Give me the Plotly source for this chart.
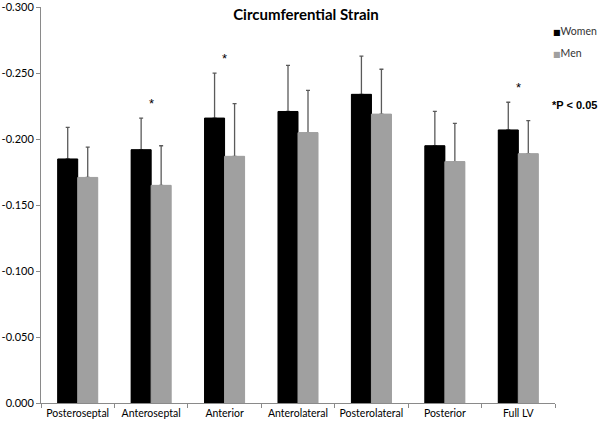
import plotly.graph_objects as go

categories = ["Posteroseptal", "Anteroseptal", "Anterior", "Anterolateral",
              "Posterolateral", "Posterior", "Full LV"]
women = [-0.185, -0.192, -0.216, -0.221, -0.234, -0.195, -0.207]
women_err = [0.024, 0.024, 0.034, 0.035, 0.029, 0.026, 0.021]
men = [-0.171, -0.165, -0.187, -0.205, -0.219, -0.183, -0.189]
men_err = [0.023, 0.030, 0.040, 0.032, 0.034, 0.029, 0.025]
significant = ["Anteroseptal", "Anterior", "Full LV"]
y_tick_vals = [0.0, -0.05, -0.10, -0.15, -0.20, -0.25, -0.30]
y_tick_text = ["0.000", "-0.050", "-0.100", "-0.150", "-0.200", "-0.250", "-0.300"]
series_names = ["Women", "Men"]

BLACK = "#000000"
GRAY = "#a0a0a0"
ERR = "#5a5a5a"
FONT = "Lato"

fig = go.Figure()
# bars carrying the one-sided error bars
for name, vals, errs, col, grp in [(series_names[0], women, women_err, BLACK, "w"),
                                   (series_names[1], men, men_err, GRAY, "m")]:
    fig.add_trace(go.Bar(
        x=categories, y=vals, marker=dict(color=col, line=dict(width=0)),
        offsetgroup=grp, showlegend=False, hoverinfo="skip", name=name,
        error_y=dict(type="data", symmetric=False, array=[0] * len(errs),
                     arrayminus=errs, color=ERR, thickness=1.3, width=2),
    ))
# solid bars on top (hide the zero-length cap at bar top)
for name, vals, col, grp in [(series_names[0], women, BLACK, "w"),
                             (series_names[1], men, GRAY, "m")]:
    fig.add_trace(go.Bar(
        x=categories, y=vals, marker=dict(color=col, line=dict(color=col, width=1)),
        offsetgroup=grp, showlegend=False, name=name,
    ))

annotations = []
for cat in significant:
    i = categories.index(cat)
    tip = max(-women[i] + women_err[i], -men[i] + men_err[i])
    annotations.append(dict(
        x=cat, y=-(tip + 0.004), xref="x", yref="y", text="*", showarrow=False,
        yanchor="bottom", font=dict(family="Liberation Sans", size=13, color="#000"),
    ))
annotations.append(dict(
    x=0.991, y=0.7525, xref="paper", yref="paper", text="<b>*P < 0.05</b>",
    showarrow=False, xanchor="left", yanchor="middle",
    font=dict(family="Liberation Sans", size=11, color="#000"),
))
# legend (key) entries
for name, col, ypos in [(series_names[0], BLACK, 0.939), (series_names[1], GRAY, 0.884)]:
    annotations.append(dict(
        x=0.994, y=ypos, xref="paper", yref="paper", showarrow=False,
        xanchor="left", yanchor="middle", borderpad=0,
        text=f"<span style='color:{col};font-size:8px;font-family:DejaVu Sans'>■</span>{name}",
        font=dict(family=FONT, size=10.5, color="#333"),
    ))

fig.update_layout(
    width=600, height=427,
    margin=dict(l=41, r=45, t=7, b=24),
    paper_bgcolor="white", plot_bgcolor="white",
    barmode="group", bargap=0.455, bargroupgap=0,
    title=dict(text="<b>Circumferential Strain</b>", x=0.51, xref="container",
               xanchor="center", y=0.966, yanchor="middle",
               font=dict(family=FONT, size=15, color="#000")),
    font=dict(family=FONT, size=11, color="#000"),
    showlegend=False,
    annotations=annotations,
    xaxis=dict(type="category", showline=True, linecolor="#8a8a8a", linewidth=1,
               ticks="outside", tickson="boundaries", ticklen=4, tickcolor="#8a8a8a",
               tickangle=0, automargin=False,
               showgrid=False, zeroline=False, tickfont=dict(family=FONT, size=10.5)),
    yaxis=dict(range=[0, -0.3002], showline=True, linecolor="#8a8a8a", linewidth=1,
               ticks="outside", ticklen=4, tickcolor="#8a8a8a", automargin=False,
               tickvals=y_tick_vals, ticktext=y_tick_text,
               showgrid=False, zeroline=False, tickfont=dict(family=FONT, size=11)),
)

fig.write_html("out.html", config={"displayModeBar": False},
               post_script="document.body.style.margin='0';document.body.style.padding='0';")
